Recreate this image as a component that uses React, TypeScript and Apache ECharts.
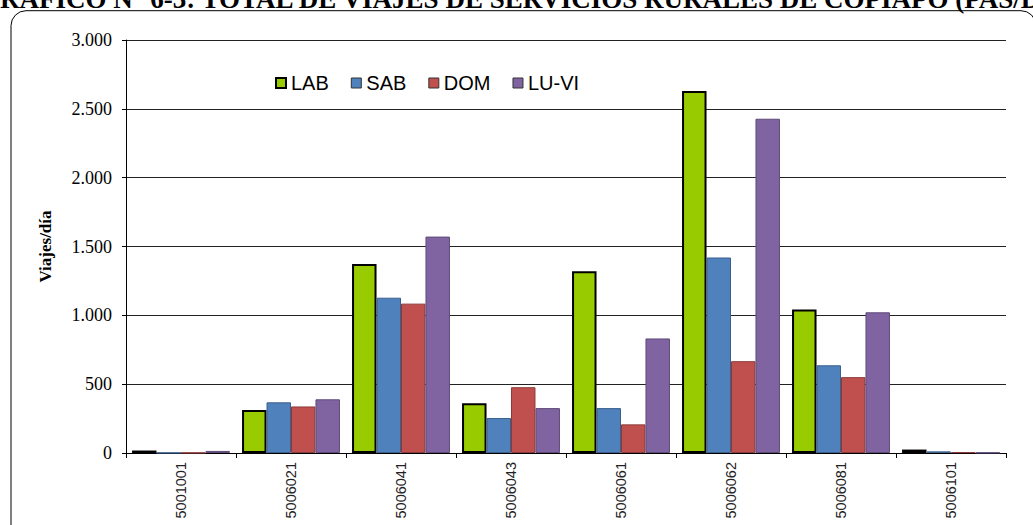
import React, { useEffect, useRef } from "react";
import * as echarts from "echarts";

const categories = ["5001001", "5006021", "5006041", "5006043", "5006061", "5006062", "5006081", "5006101"];
const seriesNames = ["LAB", "SAB", "DOM", "LU-VI"];
const lab = [18, 312, 1372, 362, 1320, 2630, 1042, 25];
const sab = [2, 368, 1128, 254, 326, 1420, 637, 12];
const dom = [2, 338, 1085, 478, 208, 667, 551, 6];
const luvi = [15, 390, 1572, 326, 832, 2428, 1022, 3];
const yTicks = { min: 0, max: 3000, interval: 500 };
const titleText = "GRÁFICO N° 6-3: TOTAL DE VIAJES DE SERVICIOS RURALES DE COPIAPÓ (PAS/DÍA)";
const yAxisName = "Viajes/día";

const colors = ["#99CC00", "#4F81BD", "#C0504D", "#8064A2"];
const borders = ["#000000", "#3A5F8C", "#8C3A38", "#5E4A78"];

export default function App() {
  const ref = useRef<HTMLDivElement>(null);
  useEffect(() => {
    if (!ref.current) return;
    const chart = echarts.init(ref.current, null, { renderer: "svg" });
    const data = [lab, sab, dom, luvi];
    chart.setOption({
      animation: false,
      backgroundColor: "#ffffff",
      grid: { left: 126, right: 27, top: 40, bottom: 72, containLabel: false },
      legend: {
        left: 270,
        top: 68,
        itemWidth: 10,
        itemHeight: 10,
        itemGap: 22,
        icon: "rect",
        data: seriesNames.map((n, i) => ({
          name: n,
          itemStyle: { borderColor: i === 0 ? "#000" : "#333", borderWidth: i === 0 ? 2 : 1 },
        })),
        textStyle: { fontFamily: "Liberation Sans", fontSize: 20, color: "#000" },
      },
      graphic: [
        {
          type: "text",
          x: -21,
          y: 12.7,
          style: {
            text: titleText,
            font: "bold 27px 'Liberation Serif'",
            fill: "#000",
            verticalAlign: "bottom",
            align: "left",
          },
        },
        {
          type: "rect",
          shape: { x: 11, y: 10.7, width: 1025, height: 560, r: 15 },
          style: { fill: "none", stroke: "#000", lineWidth: 1 },
          z: 100,
        },
      ],
      xAxis: {
        type: "category",
        data: categories,
        axisLine: { lineStyle: { color: "#000", width: 1 } },
        axisTick: { show: true, length: 5, lineStyle: { color: "#000" } },
        axisLabel: {
          rotate: 90,
          margin: 9,
          fontFamily: "Liberation Sans",
          fontSize: 14.5,
          color: "#222",
        },
      },
      yAxis: {
        type: "value",
        min: yTicks.min,
        max: yTicks.max,
        interval: yTicks.interval,
        name: yAxisName,
        nameLocation: "middle",
        nameGap: 72,
        nameTextStyle: { fontFamily: "Liberation Serif", fontWeight: "bold", fontSize: 17, color: "#000" },
        axisLine: { show: true, lineStyle: { color: "#000" } },
        axisTick: { show: true, length: 4, lineStyle: { color: "#000" } },
        axisLabel: {
          margin: 14,
          fontFamily: "Liberation Serif",
          fontSize: 18,
          color: "#000",
          formatter: (v: number) => v.toLocaleString("de-DE"),
        },
        splitLine: { show: true, lineStyle: { color: "#222", width: 1 } },
      },
      series: seriesNames.map((name, i) => ({
        name,
        type: "bar",
        data: data[i],
        barGap: "0%",
        barCategoryGap: "11%",
        itemStyle: {
          color: colors[i],
          borderColor: borders[i],
          borderWidth: i === 0 ? 2 : 1,
        },
      })),
    });
    return () => chart.dispose();
  }, []);
  return (
    <div
      ref={ref}
      style={{ position: "fixed", left: 0, top: 0, width: 1033, height: 525, background: "#fff" }}
    />
  );
}
